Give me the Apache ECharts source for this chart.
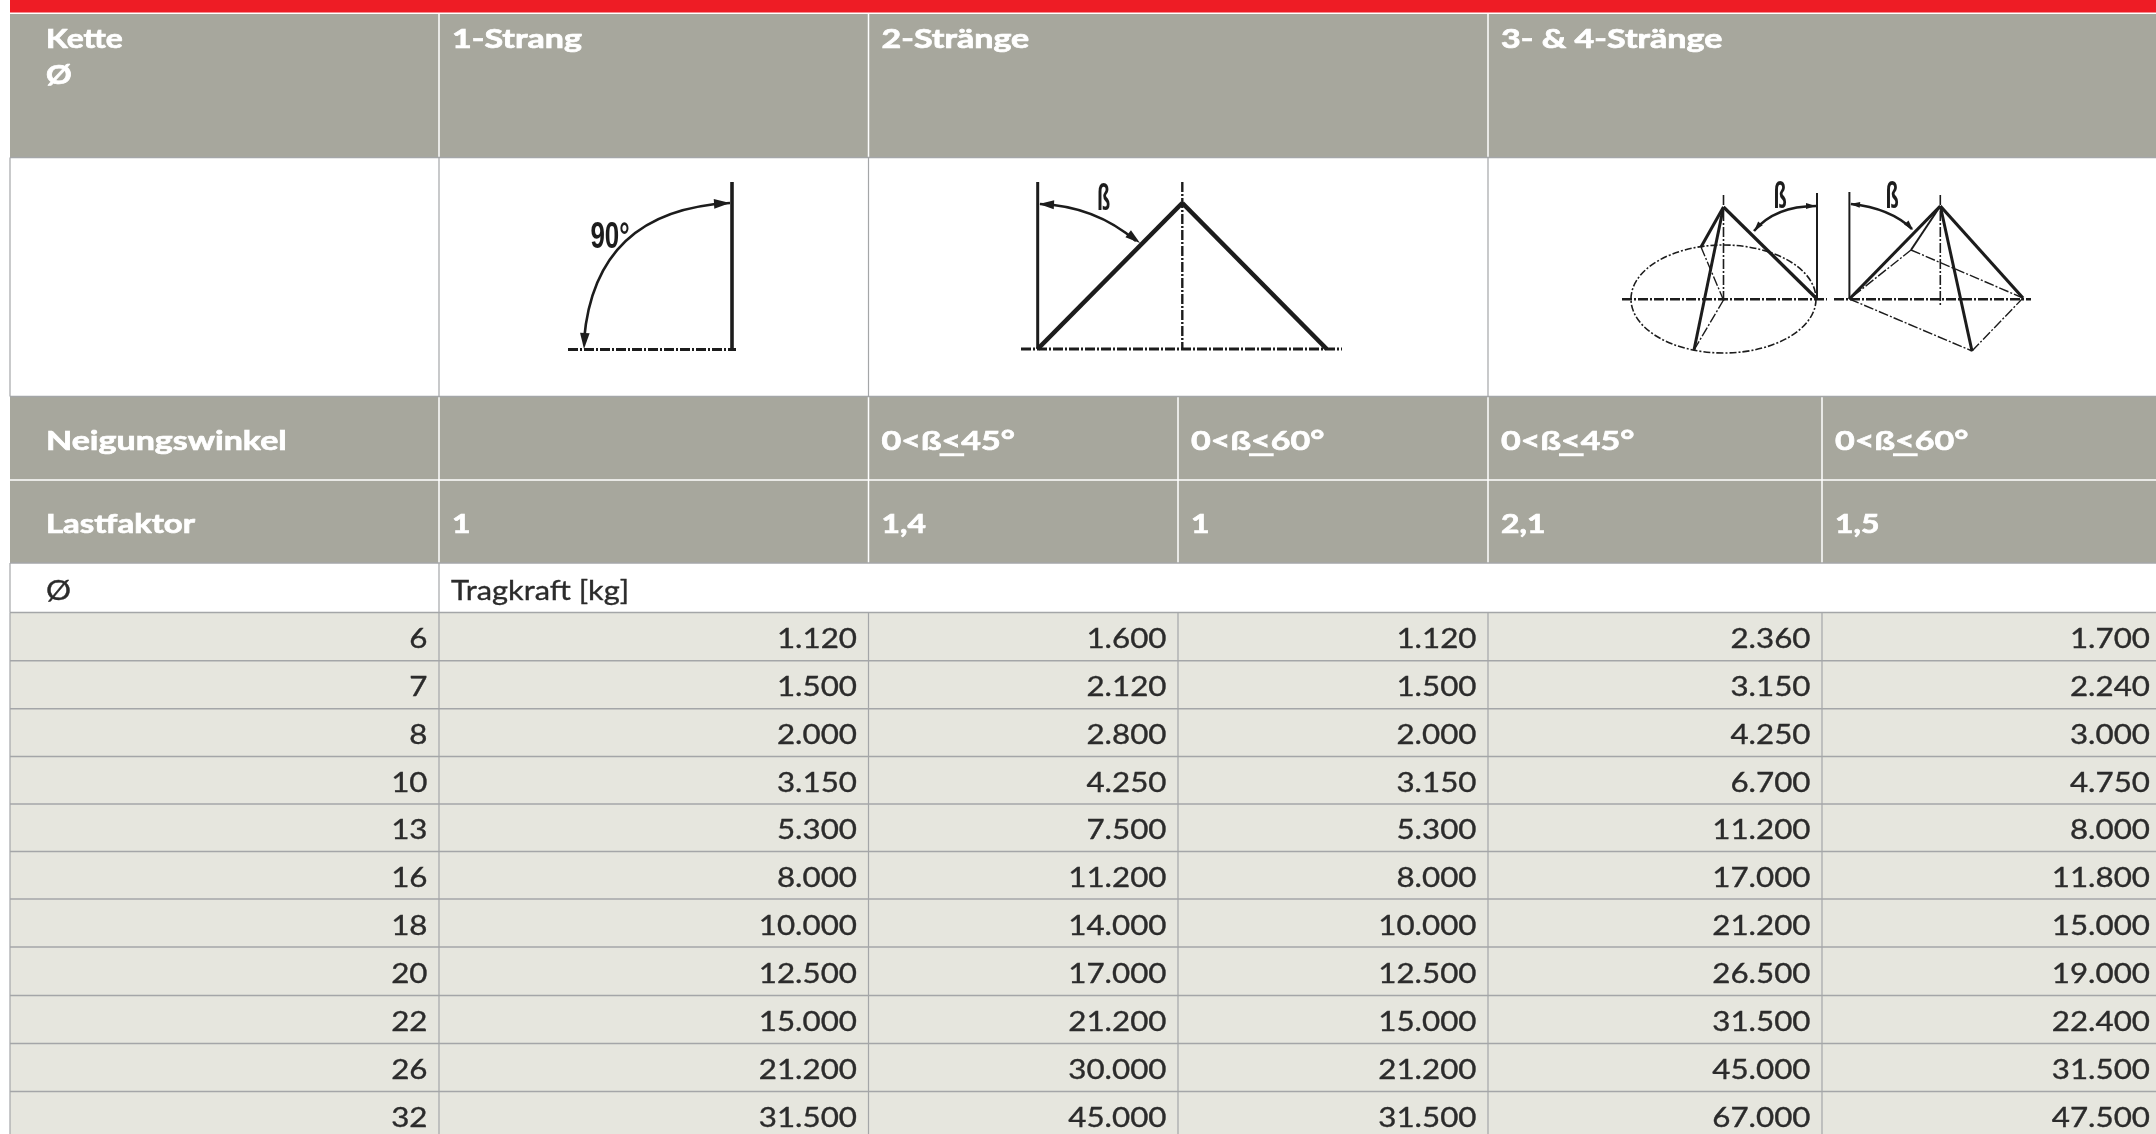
<!DOCTYPE html>
<html><head><meta charset="utf-8">
<style>html,body{margin:0;padding:0;background:#fff}#c{width:2156px;height:1134px}</style>
<script src="https://cdn.jsdelivr.net/npm/echarts@6/dist/echarts.min.js"></script>
</head><body><div id="c"></div>
<script>
// ---------- table content ----------
const headerRow1 = ['Kette\nØ', '1-Strang', '2-Stränge', '3- & 4-Stränge'];
const headerRow1Spans = [[0,1],[1,2],[2,4],[4,6]];
const angleLabel = 'Neigungswinkel';
const angleValues = ['', '0<ß<45°', '0<ß<60°', '0<ß<45°', '0<ß<60°'];
const factorLabel = 'Lastfaktor';
const factorValues = ['1', '1,4', '1', '2,1', '1,5'];
const unitLabels = ['Ø', 'Tragkraft [kg]'];
const diameters = ['6','7','8','10','13','16','18','20','22','26','32'];
const strand1 = ['1.120','1.500','2.000','3.150','5.300','8.000','10.000','12.500','15.000','21.200','31.500'];
const strand2a45 = ['1.600','2.120','2.800','4.250','7.500','11.200','14.000','17.000','21.200','30.000','45.000'];
const strand2a60 = ['1.120','1.500','2.000','3.150','5.300','8.000','10.000','12.500','15.000','21.200','31.500'];
const strand34a45 = ['2.360','3.150','4.250','6.700','11.200','17.000','21.200','26.500','31.500','45.000','67.000'];
const strand34a60 = ['1.700','2.240','3.000','4.750','8.000','11.800','15.000','19.000','22.400','31.500','47.500'];
const bodyColumns = [diameters, strand1, strand2a45, strand2a60, strand34a45, strand34a60];

// ---------- layout ----------
const colEdges = [10, 439, 868.5, 1178, 1488, 1822, 2156];
const rowEdges = [14, 157.5, 396.5, 480, 563, 612.5, 660.7, 708.8, 756.5, 804, 851.5, 899, 947, 995.5, 1043.5, 1091.5, 1140];
const C = {red:'#ee1c25', head:'#a7a79d', body:'#e6e6de', line:'#a4a6a8', ink:'#2b2b2b', draw:'#1c1c1c'};
const FONT = 'Lato', SX_BODY = 1.16, SX_BOLD = 1.26, SX_SHORT = 1.18;

const cellRows = [];
function addCell(x0,x1,y0,y1,fill){ cellRows.push([x0,x1,y0,y1,fill]); }
const lines = [];
function addLine(x0,y0,x1,y1,color,w){ lines.push([x0,y0,x1,y1,color,w]); }
const texts = [];
function addText(x,y,t,align,bold,color,sx){ texts.push([x,y,t,align,bold,color,sx||(bold?SX_BOLD:SX_BODY)]); }

// fills
addCell(colEdges[0],2156,0,12.5,C.red);
addCell(colEdges[0],2156,rowEdges[0],rowEdges[1],C.head);
addCell(colEdges[0],2156,rowEdges[2],rowEdges[4],C.head);
addCell(colEdges[0],2156,rowEdges[5],1134,C.body);
// vertical rules
[1,2,4].forEach(i=>addLine(colEdges[i],rowEdges[0],colEdges[i],rowEdges[1],'#ffffff',1.5));
[0,1,2,4].forEach(i=>addLine(colEdges[i],rowEdges[1],colEdges[i],rowEdges[2],C.line,1.2));
[1,2,3,4,5].forEach(i=>addLine(colEdges[i],rowEdges[2],colEdges[i],rowEdges[4],'#ffffff',1.5));
[0,1].forEach(i=>addLine(colEdges[i],rowEdges[4],colEdges[i],rowEdges[5],C.line,1.2));
[0,1,2,3,4,5].forEach(i=>addLine(colEdges[i],rowEdges[5],colEdges[i],1134,C.line,1.2));
// horizontal rules
addLine(colEdges[0],rowEdges[3],2156,rowEdges[3],'#ffffff',1.5);
[1,2,4,5].forEach(i=>addLine(colEdges[0],rowEdges[i],2156,rowEdges[i],C.line,1.5));
for(let i=6;i<16;i++) addLine(colEdges[0],rowEdges[i],2156,rowEdges[i],C.line,1.5);
// header text
const PAD = 13, DY_HEAD = 3, DY_UNIT = 4, DY_BODY = 2.8;
addText(46,39,'Kette','left',true,'#fff',SX_SHORT);
addText(46,75,'Ø','left',true,'#fff',SX_SHORT);
headerRow1Spans.slice(1).forEach((s,i)=>addText(colEdges[s[0]]+PAD,39,headerRow1[i+1],'left',true,'#fff'));
const angleY=(rowEdges[2]+rowEdges[3])/2+DY_HEAD, factorY=(rowEdges[3]+rowEdges[4])/2+DY_HEAD;
addText(46,angleY,angleLabel,'left',true,'#fff');
addText(46,factorY,factorLabel,'left',true,'#fff',SX_SHORT+0.04);
angleValues.forEach((t,i)=>addText(colEdges[i+1]+PAD,angleY,t,'left',true,'#fff'));
factorValues.forEach((t,i)=>addText(colEdges[i+1]+PAD,factorY,t,'left',true,'#fff',SX_SHORT));
addText(46,(rowEdges[4]+rowEdges[5])/2+DY_UNIT,unitLabels[0],'left',false,C.ink);
addText(colEdges[1]+12,(rowEdges[4]+rowEdges[5])/2+DY_UNIT,unitLabels[1],'left',false,C.ink,1.14);
// body text
bodyColumns.forEach((col,c)=>col.forEach((t,r)=>{
  const right = c===5 ? 2150 : colEdges[c+1]-11.5;
  addText(right,(rowEdges[r+5]+rowEdges[r+6])/2+DY_BODY,t,'right',false,C.ink);
}));
// underline of the second "<" in the angle labels
const mctx=document.createElement('canvas').getContext('2d');
mctx.font='bold 27px '+FONT;
angleValues.forEach((t,i)=>{ if(!t) return;
  const x0=colEdges[i+1]+PAD+mctx.measureText('0<ß').width*SX_BOLD;
  const x1=x0+mctx.measureText('<').width*SX_BOLD;
  addLine(x0-2,angleY+13.5,x1+3,angleY+13.5,'#ffffff',3);
});

// ---------- schematic drawings ----------
const solid = [
 // 1-strand
 [732,182,732,349,3.6],
 // 2-strand
 [1037.7,182,1037.7,349,3],[1037.7,349,1182.3,203,4.6],[1182.3,203,1326.7,349,4.6],
 // 3&4 left
 [1723.5,207,1701,247,3],[1723.5,207,1694,350,3],[1723.5,207,1816,298,3.2],[1817,193,1817,299,2],
 // 3&4 right
 [1849.4,192,1849.4,299,2],[1940.3,206,1849.4,299,3.2],[1940.3,206,2023,298,3.2],[1940.3,206,1972,351,3],[1940.3,206,1911,250,2]
];
const dashed = [
 [568,349.5,736,349.5,2.8],
 [1021,349,1342,349,2.8],[1182.3,182,1182.3,349,2.4],
 [1622,299.3,1827,299.3,2.4],[1723.5,195,1723.5,303,1.6],[1701,247,1723.5,300,1.4],[1723.5,300,1694,350,1.4],
 [1834,299.3,2031,299.3,2.4],[1940.3,195,1940.3,305,1.6],[1911,250,1849.4,299,1.4],[1911,250,2023,298,1.4],[1849.4,299,1972,351,1.4],[1972,351,2023,298,1.4]
];
const curves = [
 [730,203,595,210,584,340],
 [1040,204,1095,206,1136,241],
 [1816,206,1775,206,1754,231],
 [1851,204,1890,208,1912,229]
];
const arrows = [
 [730,203,-3,16],[584,349,93,16],
 [1039,204,183,15],[1140,243,38,15],
 [1816,206,0,10],[1754,231,130,10],
 [1850,204,185,10],[1913,230,48,10]
];
const ellipse = [1723.5,299,92.5,54];
const drawLabels = [[610,238,'90°',0.72],[1103.5,200,'ß',0.6],[1780,198,'ß',0.6],[1892,198,'ß',0.6]];

const chart = echarts.init(document.getElementById('c'), null, {renderer:'canvas'});
function px(api,x,y){ return api.coord([x,y]); }
chart.setOption({
  animation:false,
  backgroundColor:'#ffffff',
  grid:{left:0,right:0,top:0,bottom:0},
  xAxis:{type:'value',min:0,max:2156,show:false},
  yAxis:{type:'value',min:0,max:1134,inverse:true,show:false},
  series:[
    {type:'custom',coordinateSystem:'cartesian2d',silent:true,clip:true,z:1,data:cellRows.map((d,i)=>[d[0],d[2],i]),
     encode:{x:0,y:1},
     renderItem(p,api){const d=cellRows[api.value(2)];const a=px(api,d[0],d[2]),b=px(api,d[1],d[3]);
       return {type:'rect',shape:{x:a[0],y:a[1],width:b[0]-a[0],height:b[1]-a[1]},style:{fill:d[4]}};}},
    {type:'custom',coordinateSystem:'cartesian2d',silent:true,clip:true,z:2,data:lines.map((d,i)=>[d[0],d[1],i]),
     encode:{x:0,y:1},
     renderItem(p,api){const d=lines[api.value(2)];const a=px(api,d[0],d[1]),b=px(api,d[2],d[3]);
       return {type:'line',shape:{x1:a[0],y1:a[1],x2:b[0],y2:b[1]},style:{stroke:d[4],lineWidth:d[5]}};}},
    {type:'custom',coordinateSystem:'cartesian2d',silent:true,clip:true,z:3,data:solid.map((d,i)=>[d[0],d[1],i]),
     encode:{x:0,y:1},
     renderItem(p,api){const d=solid[api.value(2)];const a=px(api,d[0],d[1]),b=px(api,d[2],d[3]);
       return {type:'line',shape:{x1:a[0],y1:a[1],x2:b[0],y2:b[1]},style:{stroke:C.draw,lineWidth:d[4]}};}},
    {type:'custom',coordinateSystem:'cartesian2d',silent:true,clip:true,z:3,data:dashed.map((d,i)=>[d[0],d[1],i]),
     encode:{x:0,y:1},
     renderItem(p,api){const d=dashed[api.value(2)];const a=px(api,d[0],d[1]),b=px(api,d[2],d[3]);
       return {type:'line',shape:{x1:a[0],y1:a[1],x2:b[0],y2:b[1]},style:{stroke:C.draw,lineWidth:d[4],lineDash:[10,2,2,2]}};}},
    {type:'custom',coordinateSystem:'cartesian2d',silent:true,clip:true,z:3,data:curves.map((d,i)=>[d[0],d[1],i]),
     encode:{x:0,y:1},
     renderItem(p,api){const d=curves[api.value(2)];const a=px(api,d[0],d[1]),c=px(api,d[2],d[3]),b=px(api,d[4],d[5]);
       return {type:'bezierCurve',shape:{x1:a[0],y1:a[1],cpx1:c[0],cpy1:c[1],x2:b[0],y2:b[1]},style:{fill:null,stroke:C.draw,lineWidth:2.6}};}},
    {type:'custom',coordinateSystem:'cartesian2d',silent:true,clip:true,z:3,data:arrows.map((d,i)=>[d[0],d[1],i]),
     encode:{x:0,y:1},
     renderItem(p,api){const d=arrows[api.value(2)];const t=px(api,d[0],d[1]);const a=d[2]*Math.PI/180,s=d[3],w=s*0.3;
       const bx=t[0]-Math.cos(a)*s,by=t[1]-Math.sin(a)*s,nx=-Math.sin(a)*w,ny=Math.cos(a)*w;
       return {type:'polygon',shape:{points:[t,[bx+nx,by+ny],[bx-nx,by-ny]]},style:{fill:C.draw}};}},
    {type:'custom',coordinateSystem:'cartesian2d',silent:true,clip:true,z:3,data:[[ellipse[0],ellipse[1]]],
     encode:{x:0,y:1},
     renderItem(p,api){const c=api.coord([ellipse[0],ellipse[1]]);
       return {type:'ellipse',shape:{cx:c[0],cy:c[1],rx:ellipse[2],ry:ellipse[3]},style:{fill:null,stroke:C.draw,lineWidth:1.6,lineDash:[7,2,2,2]}};}},
    {type:'custom',coordinateSystem:'cartesian2d',silent:true,clip:true,z:4,data:drawLabels.map((d,i)=>[d[0],d[1],i]),
     encode:{x:0,y:1},
     renderItem(p,api){const d=drawLabels[api.value(2)];const a=px(api,d[0],d[1]);
       return {type:'text',x:a[0],y:a[1],scaleX:d[3],style:{text:d[2],x:0,y:0,textAlign:'center',textVerticalAlign:'middle',font:'bold 36px "Liberation Sans"',fill:C.draw}};}},
    {type:'custom',coordinateSystem:'cartesian2d',silent:true,clip:true,z:5,data:texts.map((d,i)=>[d[0],d[1],i]),
     encode:{x:0,y:1},
     renderItem(p,api){const d=texts[api.value(2)];const a=px(api,d[0],d[1]);
       return {type:'text',x:a[0],y:a[1],scaleX:d[6],style:{text:d[2],x:0,y:0,textAlign:d[3],textVerticalAlign:'middle',
         font:(d[4]?'bold 27px ':'27px ')+FONT,fill:d[5],stroke:d[5],lineWidth:d[4]?0.7:0.35}};}}
  ]
});
</script></body></html>
